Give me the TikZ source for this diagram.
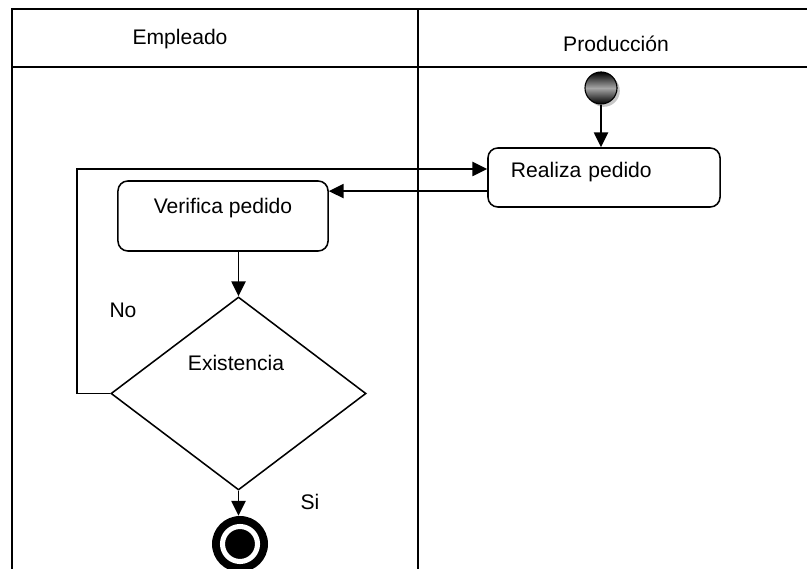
\documentclass[tikz,border=0pt]{standalone}
\usepackage{fontspec}
\setmainfont{Liberation Sans}
\usepackage{tikz}
\usetikzlibrary{arrows.meta,positioning,shapes.geometric,shadows}

\begin{document}
\begin{tikzpicture}[x=0.025cm, y=-0.025cm,
  font=\fontsize{15}{18}\selectfont,
  lane/.style={line width=1.4pt},
  actbox/.style={draw=black, fill=white, rectangle, rounded corners=7pt,
    line width=1.1pt, inner sep=0pt},
  txt/.style={inner sep=0pt},
  ar/.style={-{Triangle[length=10.5pt,width=10pt]}, line width=1.3pt},
]
\useasboundingbox (0,0) rectangle (807,569);

%--- Carriles ---
\draw[lane] (12,569) -- (12,9) -- (807,9);
\draw[lane] (12,67) -- (807,67);
\draw[lane] (418,9) -- (418,569);
\node[txt] (emp)  at (180,39) {Empleado};
\node[txt] (prod) at (616,44) {Producción};

%--- Produccion ---
\node[circle, minimum size=0.8cm, inner sep=0pt, draw=black, line width=0.8pt,
  top color=black, bottom color=black, middle color=gray!70,
  drop shadow={shadow xshift=2pt, shadow yshift=-2pt, opacity=0.45}] (ini) at (601,88) {};
\node[actbox, minimum width=5.8cm, minimum height=1.475cm, text width=4.65cm,
  align=left, text depth=11pt] (realiza) at (604,177.5) {Realiza pedido};

%--- Empleado ---
\node[actbox, minimum width=5.25cm, minimum height=1.75cm,
  text depth=13.8pt] (verif) at (223,216) {Verifica pedido};
\node[diamond, draw=black, line width=1.1pt, minimum width=6.375cm,
  minimum height=4.825cm, inner sep=0pt] (dec) at (238.5,393.5) {};
\node[txt] (exist) at (236,363) {Existencia};
\node[txt] (no) at (123,310) {No};
\node[txt] (si) at (310,502) {Si};
\node[circle, fill=black, minimum size=1.4cm, inner sep=0pt] (fin) at (240,544) {};
\node[circle, fill=black, draw=white, line width=3.6pt, minimum size=0.875cm,
  inner sep=0pt] (fincore) at (fin.center) {};

%--- Flechas ---
\coordinate (lp) at (77,169);
\coordinate (rt) at ([yshift=-0.34cm]realiza.west);
\draw[ar] (ini.south) -- (ini.south |- realiza.north);
\draw[ar] (rt) -- (rt -| verif.east);
\draw[ar] (verif.south -| dec.north) -- (dec.north);
\draw[ar] (dec.west) -| (lp) -- (lp -| realiza.west);
\draw[ar] (dec.south) -- (dec.south |- fin.north);

\end{tikzpicture}
\end{document}
